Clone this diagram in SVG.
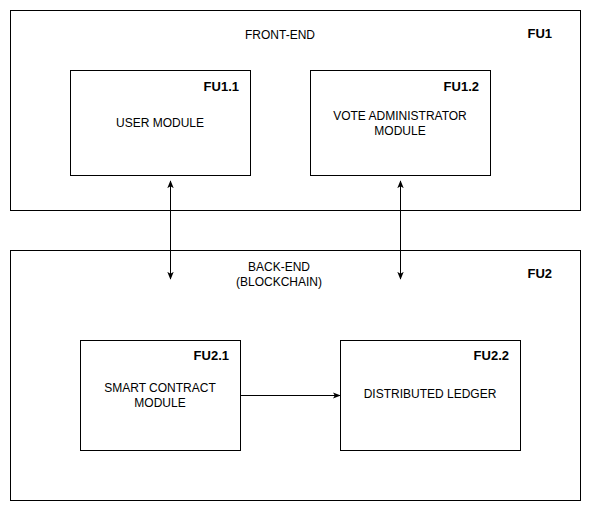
<svg xmlns="http://www.w3.org/2000/svg" width="591" height="511" viewBox="0 0 591 511">
<style>
.box{fill:#fff;stroke:#000;stroke-width:1}
.t{font-family:"Liberation Sans",Arial,sans-serif;font-size:12px;fill:#000;text-anchor:middle}
.b{font-family:"Liberation Sans",Arial,sans-serif;font-size:13px;font-weight:bold;fill:#000;text-anchor:end}
.c{fill:none;stroke:#000;stroke-width:1}
</style>
<defs>
<marker id="ah" viewBox="0 0 10 10" refX="9" refY="5" markerWidth="8" markerHeight="8" markerUnits="userSpaceOnUse" orient="auto-start-reverse">
<path d="M0,1 L10,5 L0,9 L2.5,5 Z" fill="#000"/>
</marker>
</defs>
<rect width="591" height="511" fill="#fff"/>
<g id="fu1">
<rect class="box" x="10.5" y="10.5" width="570" height="200"/>
<text class="t" x="280" y="39">FRONT-END</text>
<text class="b" x="552" y="38">FU1</text>
</g>
<g id="fu2">
<rect class="box" x="10.5" y="250.5" width="570" height="250"/>
<text class="t" x="279" y="271">BACK-END</text>
<text class="t" x="279" y="286">(BLOCKCHAIN)</text>
<text class="b" x="552" y="278">FU2</text>
</g>
<g id="fu1-1">
<rect class="box" x="70.5" y="70.5" width="180" height="105"/>
<text class="b" x="239" y="91">FU1.1</text>
<text class="t" x="160" y="127">USER MODULE</text>
</g>
<g id="fu1-2">
<rect class="box" x="310.5" y="70.5" width="180" height="105"/>
<text class="b" x="479" y="91">FU1.2</text>
<text class="t" x="400" y="120">VOTE ADMINISTRATOR</text>
<text class="t" x="400" y="135">MODULE</text>
</g>
<g id="fu2-1">
<rect class="box" x="80.5" y="340.5" width="160" height="110"/>
<text class="b" x="229" y="360">FU2.1</text>
<text class="t" x="160" y="392">SMART CONTRACT</text>
<text class="t" x="160" y="407">MODULE</text>
</g>
<g id="fu2-2">
<rect class="box" x="340.5" y="340.5" width="180" height="110"/>
<text class="b" x="509" y="360">FU2.2</text>
<text class="t" x="430" y="398">DISTRIBUTED LEDGER</text>
</g>
<g id="connectors">
<line class="c" x1="170.5" y1="181" x2="170.5" y2="279" marker-start="url(#ah)" marker-end="url(#ah)"/>
<line class="c" x1="400.5" y1="181" x2="400.5" y2="279" marker-start="url(#ah)" marker-end="url(#ah)"/>
<line class="c" x1="241" y1="395.5" x2="340" y2="395.5" marker-end="url(#ah)"/>
</g>
</svg>
